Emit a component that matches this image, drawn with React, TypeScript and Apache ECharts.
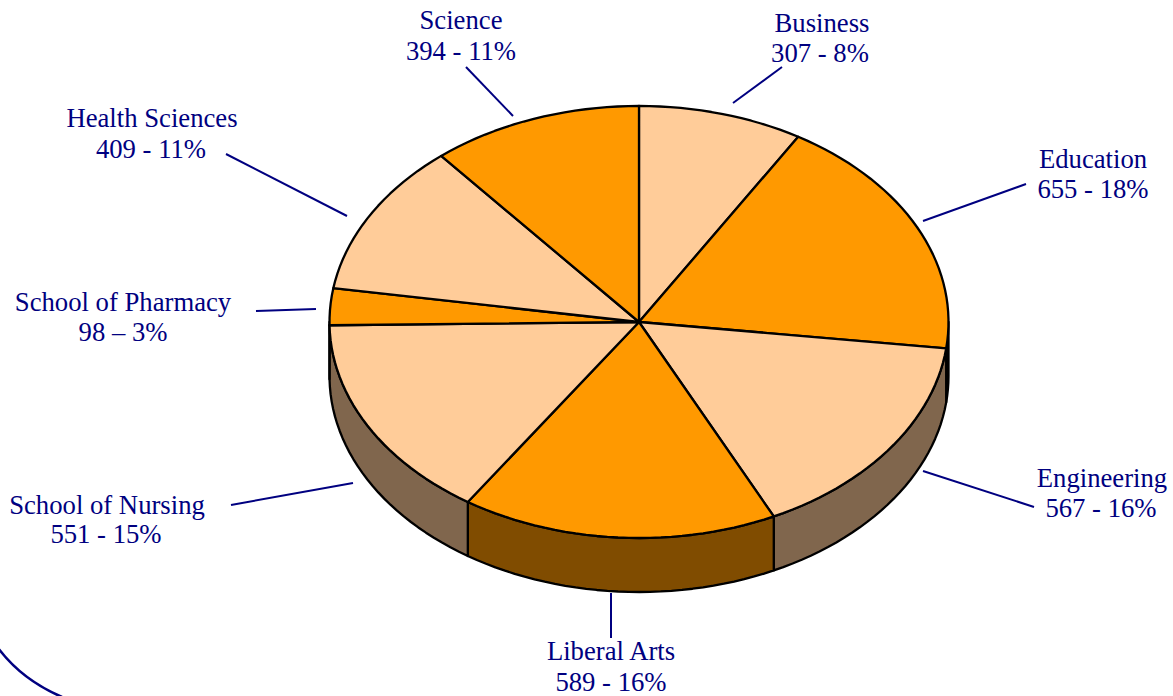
import React, { useEffect, useRef } from "react";
import * as echarts from "echarts";

const categories = ["Business", "Education", "Engineering", "Liberal Arts", "School of Nursing", "School of Pharmacy", "Health Sciences", "Science"];
const values = [307, 655, 567, 589, 551, 98, 409, 394];
const valueLabels = ["307 - 8%", "655 - 18%", "567 - 16%", "589 - 16%", "551 - 15%", "98 \u2013 3%", "409 - 11%", "394 - 11%"];

const topColors = ["#FFCC99", "#FF9900"];
const wallColors = ["#80664D", "#804C00"];
const NAVY = "#000080";
const FONT = '"Liberation Serif", serif';

// Layout of the drawing (page pixels)
const CX = 639, CY = 322, RX = 309.5, RY = 216, DEPTH = 54;
// name centre x, name centre y, value centre x, value centre y, leader x1, y1, x2, y2
const labelLayout = [
  [822, 23, 820, 53, 782, 67, 733, 103],
  [1093, 159, 1093, 189, 1026, 184, 923, 221],
  [1102, 478, 1101, 508, 1034, 507, 923, 471],
  [611, 651, 611, 682, 611, 593, 611, 638],
  [107, 505, 106, 534, 231, 505, 353, 483],
  [123, 302, 123, 332, 256, 311, 316, 309],
  [152, 118, 151, 149, 226, 154, 347, 216],
  [461, 20, 461, 51, 466, 67, 513, 116],
];

const total = values.reduce((a, b) => a + b, 0);
const startAngle = (i: number) => (values.slice(0, i).reduce((a, b) => a + b, 0) / total) * 360;
const rim = (deg: number, dy = 0): number[] => {
  const r = (deg * Math.PI) / 180;
  return [CX + RX * Math.sin(r), CY - RY * Math.cos(r) + dy];
};
const arc = (from: number, to: number, dy = 0) => {
  const steps = Math.max(1, Math.ceil((to - from) / 2));
  const pts: number[][] = [];
  for (let k = 0; k <= steps; k++) pts.push(rim(from + ((to - from) * k) / steps, dy));
  return pts;
};

const stroke = { stroke: "#000", lineWidth: 2.3, lineJoin: "round" };

export default function App() {
  const ref = useRef<HTMLDivElement>(null);
  useEffect(() => {
    const chart = echarts.init(ref.current!, undefined, { renderer: "svg" });
    const graphic: any[] = [
      {
        type: "bezierCurve",
        silent: true,
        shape: { x1: -2, y1: 648, cpx1: 22, cpy1: 680, x2: 62, y2: 697 },
        style: { stroke: NAVY, lineWidth: 2.5, fill: "none" },
      },
    ];
    categories.forEach((name, i) => {
      const [nx, ny, vx, vy, x1, y1, x2, y2] = labelLayout[i];
      graphic.push({ type: "line", silent: true, shape: { x1, y1, x2, y2 }, style: { stroke: NAVY, lineWidth: 2 } });
      graphic.push({ type: "text", silent: true, x: nx, y: ny, style: { text: name, fill: NAVY, font: `26.7px ${FONT}`, textAlign: "center", textVerticalAlign: "middle" } });
      graphic.push({ type: "text", silent: true, x: vx, y: vy, style: { text: valueLabels[i], fill: NAVY, font: `26.7px ${FONT}`, textAlign: "center", textVerticalAlign: "middle" } });
    });
    chart.setOption({
      animation: false,
      backgroundColor: "#fff",
      graphic,
      series: [
        {
          type: "custom",
          coordinateSystem: "none",
          silent: true,
          z: 1,
          data: values,
          renderItem: (params: any, api: any) => {
            const i = params.dataIndex;
            const a = startAngle(i);
            const b = a + (api.value(0) / total) * 360;
            const from = Math.max(a, 90), to = Math.min(b, 270);
            if (to <= from) return null;
            return {
              type: "polygon",
              shape: { points: [...arc(from, to), ...arc(from, to, DEPTH).reverse()] },
              style: { fill: wallColors[i % 2 === 0 ? 0 : 1], ...stroke },
            };
          },
        },
        {
          type: "custom",
          coordinateSystem: "none",
          silent: true,
          z: 2,
          data: values,
          renderItem: (params: any, api: any) => {
            const i = params.dataIndex;
            const a = startAngle(i);
            const b = a + (api.value(0) / total) * 360;
            return {
              type: "polygon",
              shape: { points: [[CX, CY], ...arc(a, b)] },
              style: { fill: topColors[i % 2], ...stroke },
            };
          },
        },
      ],
    });
    return () => chart.dispose();
  }, []);
  return <div ref={ref} style={{ position: "fixed", left: 0, top: 0, width: 1173, height: 696, overflow: "hidden" }} />;
}
